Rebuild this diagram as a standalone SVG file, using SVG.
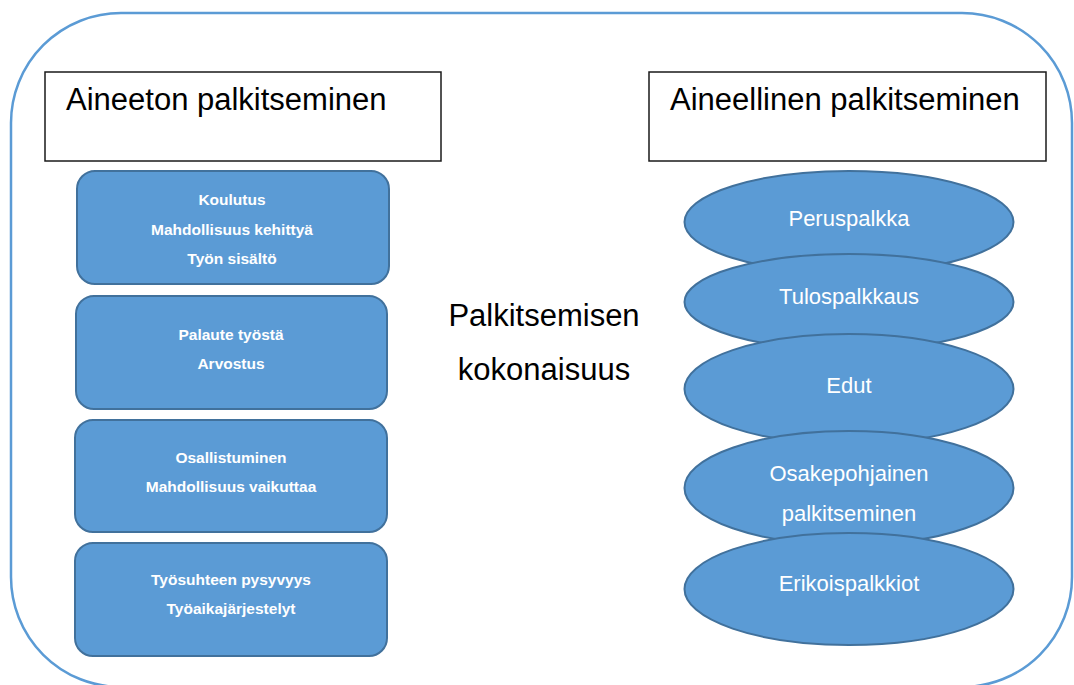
<svg xmlns="http://www.w3.org/2000/svg" width="1074" height="685" viewBox="0 0 1074 685">
<style>
text{font-family:"Liberation Sans",Arial,sans-serif}
.frame{fill:none;stroke:#5B9BD5;stroke-width:2.5}
.title{fill:#fff;stroke:#1a1a1a;stroke-width:1.5}
.titletxt{font-size:31px;fill:#000}
.box{fill:#5B9BD5;stroke:#41719C;stroke-width:2}
.boxtxt{font-size:15.5px;font-weight:bold;fill:#fff;text-anchor:middle}
.ell{fill:#5B9BD5;stroke:#41719C;stroke-width:2}
.elltxt{font-size:22px;fill:#fff;text-anchor:middle}
.center{font-size:31px;fill:#000;text-anchor:middle}
</style>
<rect class="frame" x="11" y="13" width="1061" height="674" rx="110" ry="110"/>
<g id="title-left">
<rect class="title" x="45" y="72" width="396" height="89"/>
<text class="titletxt" x="66" y="110">Aineeton palkitseminen</text>
</g>
<g id="title-right">
<rect class="title" x="649" y="72" width="397" height="89"/>
<text class="titletxt" x="670" y="110">Aineellinen palkitseminen</text>
</g>
<g id="center-label">
<text class="center" x="544" y="326">Palkitsemisen</text>
<text class="center" x="544" y="380">kokonaisuus</text>
</g>
<g id="box1">
<rect class="box" x="77" y="171" width="312" height="113" rx="18"/>
<text class="boxtxt" x="232" y="205">Koulutus</text>
<text class="boxtxt" x="232" y="235">Mahdollisuus kehittyä</text>
<text class="boxtxt" x="232" y="264">Työn sisältö</text>
</g>
<g id="box2">
<rect class="box" x="76" y="296" width="311" height="113" rx="18"/>
<text class="boxtxt" x="231" y="340">Palaute työstä</text>
<text class="boxtxt" x="231" y="369">Arvostus</text>
</g>
<g id="box3">
<rect class="box" x="75" y="420" width="312" height="112" rx="18"/>
<text class="boxtxt" x="231" y="463">Osallistuminen</text>
<text class="boxtxt" x="231" y="492">Mahdollisuus vaikuttaa</text>
</g>
<g id="box4">
<rect class="box" x="75" y="543" width="312" height="113" rx="18"/>
<text class="boxtxt" x="231" y="585">Työsuhteen pysyvyys</text>
<text class="boxtxt" x="231" y="614">Työaikajärjestelyt</text>
</g>
<g id="ell1">
<ellipse class="ell" cx="849" cy="222" rx="164.5" ry="51"/>
<text class="elltxt" x="849" y="226">Peruspalkka</text>
</g>
<g id="ell2">
<ellipse class="ell" cx="849" cy="302" rx="164.5" ry="48"/>
<text class="elltxt" x="849" y="304">Tulospalkkaus</text>
</g>
<g id="ell3">
<ellipse class="ell" cx="849" cy="389" rx="164.5" ry="55"/>
<text class="elltxt" x="849" y="393">Edut</text>
</g>
<g id="ell4">
<ellipse class="ell" cx="849" cy="488" rx="164.5" ry="57"/>
<text class="elltxt" x="849" y="481">Osakepohjainen</text>
<text class="elltxt" x="849" y="521">palkitseminen</text>
</g>
<g id="ell5">
<ellipse class="ell" cx="849" cy="589" rx="164.5" ry="56"/>
<text class="elltxt" x="849" y="591">Erikoispalkkiot</text>
</g>
<g id="connectors"/>
</svg>
